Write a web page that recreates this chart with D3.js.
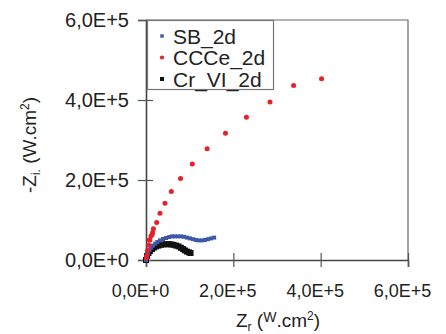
<!DOCTYPE html>
<html>
<head>
<meta charset="utf-8">
<script src="https://cdn.jsdelivr.net/npm/d3@7"></script>
<style>
  body { margin: 0; background: #fff; }
  svg { display: block; font-family: "Liberation Sans", Arial, sans-serif; }
</style>
</head>
<body>
<svg id="chart"></svg>
<script>
// Nyquist data, values in W.cm2 (x = Zr, y = -Zi)
const sbZr = [0, 2300, 4600, 8000, 11500, 16000, 21000, 26000, 32000, 39000, 46000, 53000, 59500, 66000, 73000, 80000, 87000, 94000, 101000, 108000, 114500, 121000, 128000, 135000, 142000, 149000, 156000];
const sbZi = [0, 10000, 17500, 25000, 31000, 36000, 41000, 45000, 49000, 52500, 55000, 57500, 59000, 59000, 59000, 59000, 58000, 56000, 54000, 52000, 50000, 49000, 49000, 50000, 52000, 54000, 56000];

const ccZr = [1000, 2000, 4000, 6000, 7600, 9000, 11500, 14000, 15000, 17000, 24500, 32000, 43500, 58000, 79000, 106000, 140000, 182000, 230000, 284000, 338000, 402000];
const ccZi = [5000, 12000, 25000, 37500, 50000, 50000, 60000, 64000, 69000, 78000, 94000, 117000, 142000, 171000, 204000, 240000, 278000, 317000, 357000, 395000, 436000, 453000];

const crZr = [0, 2300, 5700, 9000, 13700, 18000, 23000, 28600, 34000, 40000, 46000, 51500, 57000, 63000, 69000, 74500, 80000, 85000, 89000, 94000, 98500, 102000];
const crZi = [0, 10000, 17500, 22500, 27500, 31000, 34000, 36000, 38000, 39000, 39500, 39500, 39000, 38000, 36000, 34000, 30500, 27500, 24000, 21000, 19000, 17500];

const seriesNames = ["SB_2d", "CCCe_2d", "Cr_VI_2d"];
const tickValues = [0, 200000, 400000, 600000];
const tickLabels = ["0,0E+0", "2,0E+5", "4,0E+5", "6,0E+5"];

const W = 446, H = 334;
const plot = {left: 146, right: 408, top: 20, bottom: 260};

const svg = d3.select("#chart").attr("width", W).attr("height", H);
svg.append("rect").attr("width", W).attr("height", H).attr("fill", "#fff");

const x = d3.scaleLinear().domain([0, 600000]).range([plot.left, plot.right]);
const y = d3.scaleLinear().domain([0, 600000]).range([plot.bottom, plot.top]);

// plot frame (top + right)
svg.append("path")
  .attr("d", `M${plot.left},${plot.top}H${plot.right}V${plot.bottom}`)
  .attr("fill", "none")
  .attr("stroke", "#6a6a6a")
  .attr("stroke-width", 1.2);

// axes
const xAxis = d3.axisBottom(x)
  .tickValues(tickValues)
  .tickFormat((d, i) => tickLabels[i])
  .tickSizeOuter(0)
  .tickSize(7)
  .tickPadding(17);

const yAxis = d3.axisLeft(y)
  .tickValues(tickValues)
  .tickFormat((d, i) => tickLabels[i])
  .tickSizeOuter(0)
  .tickSize(8)
  .tickPadding(9);

const gx = svg.append("g")
  .attr("transform", `translate(0,${plot.bottom})`)
  .call(xAxis);
gx.selectAll(".tick line").attr("y1", -7);
gx.selectAll("text")
  .attr("dx", -6)
  .style("font-size", "18px")
  .attr("fill", "#222");

const gy = svg.append("g")
  .attr("transform", `translate(${plot.left},0)`)
  .call(yAxis);
gy.selectAll(".tick line").attr("x1", 7);
gy.selectAll("text")
  .style("font-size", "20px")
  .attr("fill", "#222");

svg.selectAll(".domain").attr("stroke", "#444").attr("stroke-width", 1.6);
svg.selectAll(".tick line").attr("stroke", "#555").attr("stroke-width", 1.2);

// data
const sym = d3.symbol();
function drawSeries(xs, ys, color, shape, size) {
  svg.append("g").selectAll("path")
    .data(xs.map((v, i) => [v, ys[i]]))
    .join("path")
    .attr("transform", d => `translate(${x(d[0])},${y(d[1])})`)
    .attr("d", sym.type(shape).size(size)())
    .attr("fill", color);
}
drawSeries(crZr, crZi, "#111", d3.symbolSquare, 36);
drawSeries(sbZr, sbZi, "#3d58a8", d3.symbolSquare, 16);
drawSeries(ccZr, ccZi, "#e8202a", d3.symbolCircle, 20);

// legend
const leg = svg.append("g");
leg.append("rect")
  .attr("x", 147.5).attr("y", 20.5)
  .attr("width", 126).attr("height", 69)
  .attr("fill", "#fff")
  .attr("stroke", "#777")
  .attr("stroke-width", 1.2);

const legColors = ["#3d58a8", "#e8202a", "#111"];
const legShapes = [d3.symbolSquare, d3.symbolCircle, d3.symbolSquare];
const legSizes = [12, 14, 16];
seriesNames.forEach((name, i) => {
  const cy = 36 + i * 21.5;
  leg.append("path")
    .attr("transform", `translate(162,${cy})`)
    .attr("d", d3.symbol().type(legShapes[i]).size(legSizes[i])())
    .attr("fill", legColors[i]);
  leg.append("text")
    .attr("x", 173).attr("y", cy + 7.5)
    .style("font-size", "21px")
    .attr("fill", "#222")
    .text(name);
});

// axis titles
const xt = svg.append("text")
  .attr("x", 278).attr("y", 327)
  .attr("text-anchor", "middle")
  .style("font-size", "19px")
  .attr("fill", "#222");
xt.append("tspan").text("Z");
xt.append("tspan").attr("dy", 4).style("font-size", "12px").text("r");
xt.append("tspan").attr("dy", -4).text(" (");
xt.append("tspan").attr("dy", -5).style("font-size", "14px").text("W");
xt.append("tspan").attr("dy", 5).text(".cm");
xt.append("tspan").attr("dy", -7).style("font-size", "12px").text("2");
xt.append("tspan").attr("dy", 7).text(")");

const yt = svg.append("text")
  .attr("transform", "translate(36,145) rotate(-90)")
  .attr("text-anchor", "middle")
  .style("font-size", "19px")
  .attr("fill", "#222");
yt.append("tspan").text("-Z");
yt.append("tspan").attr("dy", 4).style("font-size", "12px").text("i.");
yt.append("tspan").attr("dy", -4).text(" (W.cm");
yt.append("tspan").attr("dy", -7).style("font-size", "12px").text("2");
yt.append("tspan").attr("dy", 7).text(")");
</script>
</body>
</html>
